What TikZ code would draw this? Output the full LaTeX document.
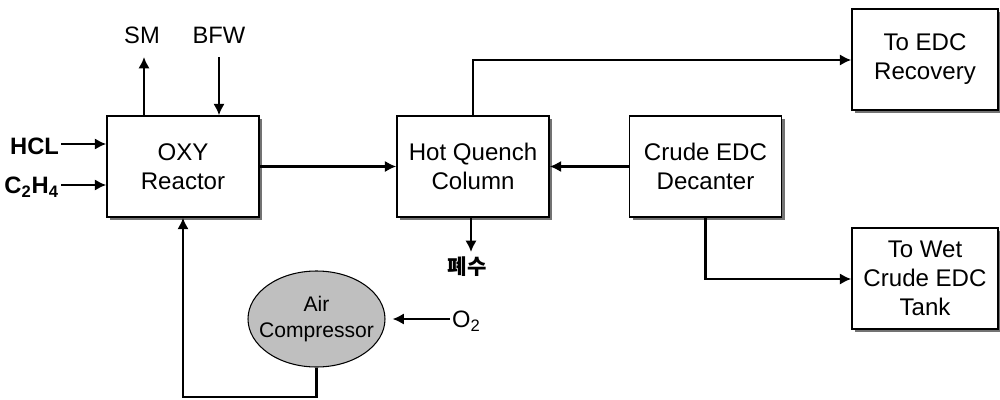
\documentclass[tikz,border=0pt]{standalone}
\usepackage{fontspec}
\setmainfont{Liberation Sans}
\newfontfamily\kofont{Noto Sans CJK KR}
\usetikzlibrary{arrows.meta,shadows,shapes.geometric}
\begin{document}
\begin{tikzpicture}[x=0.02cm,y=-0.02cm,
  box/.style={draw,line width=0.9pt,fill=white,minimum width=152*0.02cm,minimum height=101*0.02cm,
    align=center,font=\fontsize{13.7}{16.4}\selectfont,inner sep=1pt,
    drop shadow={shadow xshift=0.06cm,shadow yshift=-0.06cm,fill=black!55,opacity=1}},
  flow/.style={line width=1.2pt,-{Latex[length=6.5pt,width=6.5pt]}},
  lbl/.style={font=\fontsize{13.5}{15}\selectfont,inner sep=1pt}]
\useasboundingbox (0,0) rectangle (1000,399);
\node[box] (oxy) at (183,166.5) {OXY\\Reactor};
\node[box] (hq) at (473,166.5) {Hot Quench\\Column};
\node[box] (dec) at (705.5,166.5) {Crude EDC\\Decanter};
\node[box,minimum width=146*0.02cm] (rec) at (925,59.5) {To EDC\\Recovery};
\node[box,minimum width=146*0.02cm] (wet) at (925,278.5) {To Wet\\Crude EDC\\Tank};
\node[ellipse,draw,line width=0.6pt,fill=black!25,minimum width=137*0.02cm,minimum height=96*0.02cm,
  align=center,inner xsep=-20pt,inner ysep=0pt,font=\fontsize{12}{14.5}\selectfont] (ac) at (316.5,319) {Air\\Compressor};
% labels
\node[lbl] (sm) at (142,35) {SM};
\node[lbl] (bfw) at (219,35) {BFW};
\node[lbl,font=\fontsize{13.5}{15}\selectfont\bfseries,anchor=east] (hcl) at (61,146) {HCL};
\node[lbl,font=\fontsize{13.5}{15}\selectfont\bfseries,anchor=east] (c2h4) at (61,187) {C\textsubscript{2}H\textsubscript{4}};
\node[lbl,anchor=west] (o2) at (450,321) {O\textsubscript{2}};
\node[font=\kofont\bfseries\fontsize{12}{13}\selectfont,inner sep=1pt] (ww) at (467,267) {폐수};
\coordinate (smtop) at (144,57);
\coordinate (bfwtop) at (219,57);
\coordinate (wwend) at (471,252);
% connectors
\draw[flow] (oxy.north -| smtop) -- (smtop);
\draw[flow] (bfwtop) -- (oxy.north -| bfwtop);
\draw[flow] (hcl.east |- 0,144) -- (oxy.west |- 0,144);
\draw[flow] (c2h4.east |- 0,185) -- (oxy.west |- 0,185);
\draw[flow] (oxy.east) -- (hq.west);
\draw[flow] (dec.west) -- (hq.east);
\draw[flow] (hq.north) -- (473,60) -- (rec.west |- 0,60);
\draw[flow] (hq.south -| wwend) -- (wwend);
\draw[flow] (dec.south) -- (705.5,279) -- (wet.west |- 0,279);
\draw[flow] (o2.west |- 0,319) -- ([xshift=4pt]ac.east);
\draw[flow] (ac.south) -- (316.5,397) -- (183,397) -- (oxy.south);
\end{tikzpicture}
\end{document}
